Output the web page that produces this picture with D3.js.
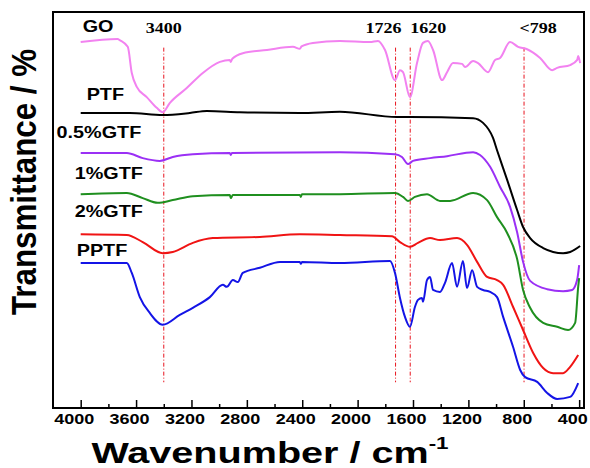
<!DOCTYPE html>
<html>
<head lang="en">
  <title>FTIR spectra</title>
  <script src="https://d3js.org/d3.v7.min.js" charset="utf-8"></script>
  <style>
    body { margin: 0; background: #fff; }
  </style>
</head>
<body>
  <script>

    // DATA: [wavenumber (cm-1), transmittance (arb. offset units)]
    var goData = [[4000,92.4],[3733,93.2],[3718,92.9],[3660,91.2],[3631,84.6],[3595,81.1],[3523,78.5],[3451,75.8],
      [3407,74.7],[3357,77.0],[3234,80.8],[3118,84.6],[2995,87.4],[2923,87.9],[2916,87.4],[2905,88.2],[2829,89.6],
      [2655,90.4],[2467,91.2],[2417,90.7],[2405,91.3],[2323,92.2],[2128,92.7],[1911,92.4],[1853,92.7],[1802,90.4],
      [1730,82.8],[1694,85.3],[1672,84.8],[1622,78.5],[1571,87.1],[1528,92.2],[1492,92.7],[1455,90.4],[1390,82.8],
      [1354,84.8],[1311,87.1],[1246,86.9],[1224,86.1],[1166,87.6],[1130,87.1],[1058,84.8],[1007,87.9],[971,88.4],
      [899,92.4],[841,91.2],[776,90.6],[682,88.4],[595,85.3],[559,85.9],[465,86.6],[414,87.9],[407,88.9],[393,87.1]];

    var ptfData = [[4000,74.5],[3646,74.5],[3407,74.0],[3212,74.5],[3089,75.0],[2851,74.7],[2417,74.5],[2128,74.8],
      [1716,73.5],[1622,73.5],[1166,73.2],[1094,72.0],[1022,68.2],[993,65.1],[920,57.6],[848,50.0],[805,45.7],
      [754,42.9],[660,40.4],[516,39.1],[465,39.4],[393,40.9]];

    var gtf05Data = [[4000,64.4],[3667,64.4],[3552,63.1],[3429,62.4],[3335,63.4],[3190,64.1],[2923,64.4],[2916,63.9],
      [2908,64.4],[2128,64.6],[1730,64.1],[1680,63.4],[1636,61.6],[1600,62.4],[1477,63.1],[1354,63.6],[1166,64.6],
      [1116,63.9],[1043,60.9],[971,55.8],[899,50.8],[848,44.4],[805,36.9],[754,32.1],[631,30.0],[516,29.5],
      [451,29.8],[415,32.3],[400,36.1]];

    var gtf1Data = [[4000,54.0],[3667,54.3],[3552,53.0],[3443,51.8],[3335,52.5],[3190,53.5],[2923,53.8],[2916,53.0],
      [2901,53.8],[2417,53.8],[2410,53.3],[2402,54.0],[2128,54.0],[1730,54.3],[1672,53.3],[1636,52.3],[1586,53.3],
      [1499,54.0],[1405,52.3],[1332,52.3],[1166,54.3],[1065,52.5],[993,48.2],[920,44.2],[848,37.6],[805,29.8],
      [754,25.3],[660,21.5],[559,20.5],[480,19.7],[429,21.5],[407,30.6],[400,32.8]];

    var gtf2Data = [[4000,43.9],[3667,43.7],[3552,41.9],[3407,39.1],[3335,39.4],[3190,41.7],[3046,42.9],[2706,43.2],
      [2417,43.9],[2128,43.7],[1752,43.4],[1694,41.9],[1622,40.7],[1564,41.7],[1477,42.9],[1405,42.4],[1282,42.9],
      [1210,41.2],[1137,36.9],[1065,33.1],[993,32.3],[949,31.1],[877,25.5],[805,19.7],[732,13.9],[660,10.1],
      [588,8.8],[516,8.8],[465,10.4],[407,13.4]];

    var pptfData = [[4000,36.6],[3667,36.6],[3631,34.1],[3573,28.0],[3501,24.0],[3407,21.0],[3284,23.5],[3190,25.3],
      [3067,28.0],[2973,31.1],[2945,30.6],[2901,32.3],[2865,31.8],[2829,34.1],[2706,35.4],[2561,36.9],[2417,36.9],
      [2410,36.4],[2402,36.9],[2128,36.6],[1766,37.1],[1730,34.1],[1694,27.8],[1658,23.0],[1622,20.5],[1586,25.5],
      [1564,27.3],[1535,27.8],[1528,26.8],[1499,32.3],[1477,33.1],[1455,29.8],[1405,29.3],[1369,31.6],[1318,36.6],
      [1282,30.6],[1239,37.1],[1210,30.3],[1173,34.8],[1137,30.6],[1094,29.8],[1043,29.3],[993,28.0],[949,23.0],
      [877,15.4],[826,9.6],[790,7.8],[703,6.6],[631,3.8],[559,2.3],[465,2.8],[407,6.3]];

    var seriesNames = ["GO", "PTF", "0.5%GTF", "1%GTF", "2%GTF", "PPTF"];
    var seriesData = [goData, ptfData, gtf05Data, gtf1Data, gtf2Data, pptfData];
    var seriesColors = ["#f282f0", "#000000", "#9b30f5", "#1f8f1f", "#f01414", "#1414e6"];
    // label anchor: [wavenumber, transmittance] of the label's left baseline
    var seriesLabelAt = [[3986, 94.9], [3957, 77.8], [4174, 68.2], [4043, 57.8], [4043, 48.2], [4029, 38.4]];

    var peakPositions = [3400, 1726, 1620, 798];
    var peakLabels = ["3400", "1726", "1620", "<798"];
    var peakLabelShift = [0, -12, 18, 14];

    var majorTicks = [4000, 3600, 3200, 2800, 2400, 2000, 1600, 1200, 800, 400];
    var minorTicks = [3800, 3400, 3000, 2600, 2200, 1800, 1400, 1000, 600];

    // LAYOUT
    var width = 590;
    var height = 468;
    var margin = {left: 53, top: 12, right: 6, bottom: 60};
    var sx = 1.2; // the reference's lettering is stretched sideways

    var x = d3.scaleLinear()
      .domain([4200, 365])
      .range([margin.left, width - margin.right]);

    var y = d3.scaleLinear()
      .domain([0, 100])
      .range([height - margin.bottom, margin.top]);

    var svg = d3.select("body")
      .append("svg")
      .attr("width", width)
      .attr("height", height);

    var sans = "'Liberation Sans', Arial, sans-serif";
    var serif = "'Liberation Serif', 'Times New Roman', serif";

    // dashed peak markers
    svg.append("g")
      .selectAll("line")
      .data(peakPositions)
      .enter().append("line")
        .attr("x1", function(d) { return x(d); })
        .attr("x2", function(d) { return x(d); })
        .attr("y1", y(91))
        .attr("y2", y(6.5))
        .attr("stroke", "#e8141e")
        .attr("stroke-width", 1)
        .attr("stroke-dasharray", "4,2,1,2");

    svg.append("g")
      .selectAll("text")
      .data(peakLabels)
      .enter().append("text")
        .attr("transform", function(d, i) {
          return "translate(" + (x(peakPositions[i]) + peakLabelShift[i]) + "," + 33 + ") scale(" + sx + ",1)";
        })
        .attr("text-anchor", "middle")
        .attr("font-family", serif)
        .attr("font-weight", "bold")
        .attr("font-size", "15px")
        .attr("fill", "#000")
        .text(function(d) { return d; });

    // spectra
    var line = d3.line()
      .x(function(d) { return x(d[0]); })
      .y(function(d) { return y(d[1]); })
      .curve(d3.curveMonotoneX);

    svg.append("g")
      .selectAll("path")
      .data(seriesData)
      .enter().append("path")
        .attr("d", line)
        .attr("fill", "none")
        .attr("stroke", function(d, i) { return seriesColors[i]; })
        .attr("stroke-width", 2)
        .attr("stroke-linejoin", "round");

    svg.append("g")
      .selectAll("text")
      .data(seriesNames)
      .enter().append("text")
        .attr("transform", function(d, i) {
          return "translate(" + x(seriesLabelAt[i][0]) + "," + y(seriesLabelAt[i][1]) + ") scale(" + sx + ",1)";
        })
        .attr("font-family", sans)
        .attr("font-weight", "bold")
        .attr("font-size", "16.5px")
        .attr("fill", "#000")
        .text(function(d) { return d; });

    // x axis with inward ticks
    var axisY = height - margin.bottom;

    var gx = svg.append("g")
      .attr("transform", "translate(0," + axisY + ")")
      .call(d3.axisBottom(x)
        .tickValues(majorTicks)
        .tickSize(-8)
        .tickPadding(5)
        .tickFormat(d3.format("d")));
    gx.select(".domain").remove();
    gx.selectAll("line").attr("stroke", "#000").attr("stroke-width", 1.5);
    gx.selectAll("text")
      .attr("font-family", sans)
      .attr("font-weight", "bold")
      .attr("font-size", "15px")
      .attr("fill", "#000")
      .attr("transform", "translate(-7,0) scale(" + sx + ",1)");

    var gm = svg.append("g")
      .attr("transform", "translate(0," + axisY + ")")
      .call(d3.axisBottom(x)
        .tickValues(minorTicks)
        .tickSize(-4)
        .tickFormat(""));
    gm.select(".domain").remove();
    gm.selectAll("line").attr("stroke", "#000").attr("stroke-width", 1.5);

    // frame
    svg.append("rect")
      .attr("x", margin.left)
      .attr("y", margin.top)
      .attr("width", width - margin.left - margin.right)
      .attr("height", height - margin.top - margin.bottom)
      .attr("fill", "none")
      .attr("stroke", "#000")
      .attr("stroke-width", 2);

    // axis titles
    var xTitle = svg.append("text")
      .attr("transform", "translate(" + 270 + "," + 463 + ") scale(1.32,1)")
      .attr("text-anchor", "middle")
      .attr("font-family", sans)
      .attr("font-weight", "bold")
      .attr("font-size", "30px")
      .attr("fill", "#000");
    xTitle.append("tspan").text("Wavenumber / cm");
    xTitle.append("tspan")
      .attr("font-size", "17px")
      .attr("dy", "-14")
      .text("-1");

    svg.append("text")
      .attr("transform", "translate(" + 36 + "," + 182 + ") rotate(-90) scale(1.08," + sx + ")")
      .attr("text-anchor", "middle")
      .attr("font-family", sans)
      .attr("font-weight", "bold")
      .attr("font-size", "29px")
      .attr("fill", "#000")
      .text("Transmittance / %");

  </script>
</body>
</html>
